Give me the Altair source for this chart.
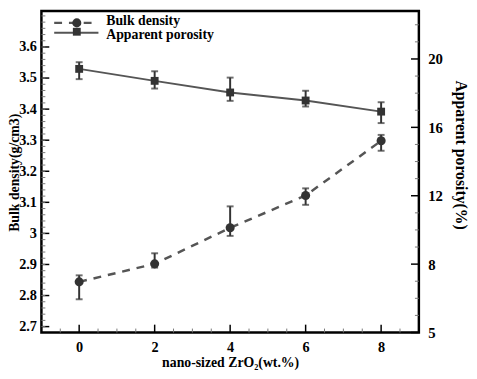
import altair as alt
import pandas as pd

# ---- data ----
zro2 = [0, 2, 4, 6, 8]
bulk_density = [2.844, 2.902, 3.018, 3.122, 3.298]
bulk_lo = [2.788, 2.890, 2.992, 3.092, 3.266]
bulk_hi = [2.865, 2.936, 3.087, 3.145, 3.317]
porosity = [19.42, 18.72, 18.04, 17.57, 16.92]
por_lo = [18.82, 18.27, 17.55, 17.22, 16.25]
por_hi = [19.81, 19.28, 18.91, 18.14, 17.47]

# axis tick values
left_major = [2.7, 2.8, 2.9, 3.0, 3.1, 3.2, 3.3, 3.4, 3.5, 3.6]
left_minor = [round(2.70 + 0.02 * i, 2) for i in range(51)]
right_major = [4, 8, 12, 16, 20]
right_minor = [5, 6, 7, 9, 10, 11, 13, 14, 15, 17, 18, 19, 21, 22]
x_major = [0, 2, 4, 6, 8]
x_minor = [-0.5, 0.5, 1, 1.5, 2.5, 3, 3.5, 4.5, 5, 5.5, 6.5, 7, 7.5, 8.5]

W, H = 384, 327
FONT = "Liberation Serif"
X_DOM = [-1, 9]
L_DOM = [2.681, 3.7155]
R_DOM = [4, 22.8]

df = pd.DataFrame({"x": zro2, "bd": bulk_density, "bd_lo": bulk_lo, "bd_hi": bulk_hi,
                   "ap": porosity, "ap_lo": por_lo, "ap_hi": por_hi})
one = pd.DataFrame({"k": [0]})

xs = alt.Scale(domain=X_DOM, nice=False, zero=False)
ls = alt.Scale(domain=L_DOM, nice=False, zero=False)
rs = alt.Scale(domain=R_DOM, nice=False, zero=False)

x_axis = alt.Axis(
    values=x_major, title="nano-sized ZrO₂(wt.%)", ticks=False, domain=False, grid=False,
    labelFont=FONT, labelFontWeight="bold", labelFontSize=14.5, labelColor="black", labelPadding=8,
    labelOverlap=False,
    titleFont=FONT, titleFontWeight="bold", titleFontSize=14, titleColor="black",
    titleY=34.5, titleBaseline="alphabetic")

left_axis = alt.Axis(values=left_major, title="Bulk density(g/cm3)", ticks=False, domain=False, grid=False,
                     labelExpr="'' + round(datum.value*10)/10", labelOverlap=False,
                     labelFont=FONT, labelFontWeight="bold", labelFontSize=14.5, labelColor="black",
                     labelPadding=5,
                     titleFont=FONT, titleFontWeight="bold", titleFontSize=14, titleColor="black",
                     titleAngle=270, titleBaseline="middle", titleX=-27.5, titleY=164)

right_axis = alt.Axis(values=right_major, orient="right", title="Apparent porosity(%)", ticks=False,
                      domain=False, grid=False, labelOverlap=False,
                      labelExpr="datum.value == 4 ? '5' : datum.label",
                      labelFont=FONT, labelFontWeight="bold", labelFontSize=15, labelColor="black",
                      labelPadding=9,
                      titleFont=FONT, titleFontWeight="bold", titleFontSize=16, titleColor="black",
                      titleAngle=90, titleBaseline="middle", titleX=42, titleY=146)


def X(field):
    return alt.X(field, scale=xs, axis=x_axis)


def YL(field):
    return alt.Y(field, scale=ls, axis=left_axis)


def YR(field):
    return alt.Y(field, scale=rs, axis=right_axis)


base = alt.Chart(df)
LINE = "#555555"
DARK = "#333333"

# ---- bulk density (left axis) ----
bd_line = base.mark_line(color=LINE, strokeWidth=2.5, strokeDash=[8, 7]).encode(
    x=X("x:Q"), y=YL("bd:Q"))
bd_err = base.mark_rule(color=DARK, strokeWidth=2).encode(
    x=X("x:Q"), y=YL("bd_lo:Q"), y2="bd_hi:Q")
bd_cap_lo = base.mark_tick(color=DARK, orient="horizontal", size=7, thickness=2).encode(
    x=X("x:Q"), y=YL("bd_lo:Q"))
bd_cap_hi = base.mark_tick(color=DARK, orient="horizontal", size=7, thickness=2).encode(
    x=X("x:Q"), y=YL("bd_hi:Q"))
bd_pts = base.mark_point(shape="circle", filled=True, size=85, color=DARK, opacity=1).encode(
    x=X("x:Q"), y=YL("bd:Q"))

# axis ticks drawn inward
lmaj = alt.Chart(pd.DataFrame({"v": left_major})).mark_rule(color="black", strokeWidth=1.5).encode(
    y=YL("v:Q"), x=alt.value(0), x2=alt.value(8))
lmin = alt.Chart(pd.DataFrame({"v": left_minor})).mark_rule(color="#777777", strokeWidth=1).encode(
    y=YL("v:Q"), x=alt.value(0), x2=alt.value(4))
xmaj = alt.Chart(pd.DataFrame({"v": x_major})).mark_rule(color="black", strokeWidth=1.5).encode(
    x=X("v:Q"), y=alt.value(H), y2=alt.value(H - 8))
xmin = alt.Chart(pd.DataFrame({"v": x_minor})).mark_rule(color="#777777", strokeWidth=1).encode(
    x=X("v:Q"), y=alt.value(H), y2=alt.value(H - 4))

# legend (single-row data so each item is drawn once)
leg = alt.Chart(one)
leg_dash = leg.mark_rule(color=LINE, strokeWidth=2.5, strokeDash=[8, 7]).encode(
    x=alt.value(13), x2=alt.value(58), y=alt.value(12))
leg_solid = leg.mark_rule(color=LINE, strokeWidth=2).encode(
    x=alt.value(13), x2=alt.value(58), y=alt.value(22))
leg_c = leg.mark_point(shape="circle", filled=True, size=85, color=DARK, opacity=1).encode(
    x=alt.value(36), y=alt.value(12))
leg_s = leg.mark_point(shape="square", filled=True, size=64, color=DARK, opacity=1).encode(
    x=alt.value(36), y=alt.value(21))
leg_t1 = leg.mark_text(text="Bulk density", font=FONT, fontWeight="bold", fontSize=14,
                       align="left", baseline="middle", color="black").encode(
    x=alt.value(66), y=alt.value(10))
leg_t2 = leg.mark_text(text="Apparent porosity", font=FONT, fontWeight="bold", fontSize=14,
                       align="left", baseline="middle", color="black").encode(
    x=alt.value(66), y=alt.value(24.5))

left = alt.layer(bd_line, bd_err, bd_cap_lo, bd_cap_hi, bd_pts, lmaj, lmin, xmaj, xmin,
                 leg_dash, leg_solid, leg_c, leg_s, leg_t1, leg_t2)

# ---- apparent porosity (right axis) ----
ap_line = base.mark_line(color=LINE, strokeWidth=2).encode(
    x=X("x:Q"), y=YR("ap:Q"))
ap_err = base.mark_rule(color=DARK, strokeWidth=2).encode(
    x=X("x:Q"), y=YR("ap_lo:Q"), y2="ap_hi:Q")
ap_cap_lo = base.mark_tick(color=DARK, orient="horizontal", size=7, thickness=2).encode(
    x=X("x:Q"), y=YR("ap_lo:Q"))
ap_cap_hi = base.mark_tick(color=DARK, orient="horizontal", size=7, thickness=2).encode(
    x=X("x:Q"), y=YR("ap_hi:Q"))
ap_pts = base.mark_point(shape="square", filled=True, size=64, color=DARK, opacity=1).encode(
    x=X("x:Q"), y=YR("ap:Q"))
rmaj = alt.Chart(pd.DataFrame({"v": right_major})).mark_rule(color="black", strokeWidth=1.5).encode(
    y=YR("v:Q"), x=alt.value(W), x2=alt.value(W - 8))
rmin = alt.Chart(pd.DataFrame({"v": right_minor})).mark_rule(color="#777777", strokeWidth=1).encode(
    y=YR("v:Q"), x=alt.value(W), x2=alt.value(W - 4))

right = alt.layer(ap_line, ap_err, ap_cap_lo, ap_cap_hi, ap_pts, rmaj, rmin)

chart = alt.layer(left, right).resolve_scale(y="independent").properties(
    width=W, height=H,
    autosize=alt.AutoSizeParams(type="none"),
    padding={"left": 34, "top": 0, "right": 51, "bottom": 36},
    background="white",
).configure_view(stroke="black", strokeWidth=2.5)

chart.save("out.html", embed_options={"renderer": "svg", "actions": False})
